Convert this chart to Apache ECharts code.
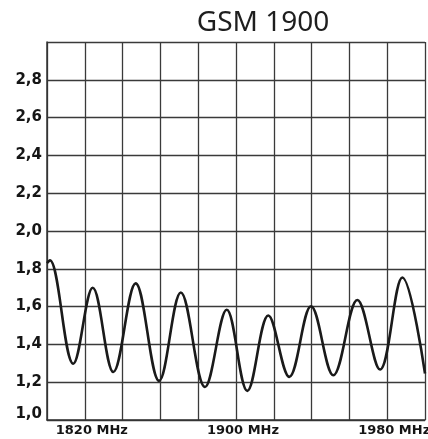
<!DOCTYPE html>
<html>
<head>
<meta charset="utf-8">
<script src="https://cdn.jsdelivr.net/npm/echarts@6/dist/echarts.min.js"></script>
<style>html,body{margin:0;padding:0;background:#fff}#c{width:428px;height:439px}</style>
</head>
<body>
<div id="c"></div>
<script>
var titleText = 'GSM 1900';
var xLabels = [1820, 1900, 1980];
var freq = [1800, 1801.5, 1813.9, 1824.2, 1835.1, 1846.9, 1859.3, 1870.8, 1883.6, 1895.1, 1906.0, 1917.1, 1928.2, 1939.7, 1951.5, 1964.2, 1976.2, 1988.0, 2000];
var vswr = [1.83, 1.845, 1.298, 1.70, 1.254, 1.723, 1.207, 1.675, 1.175, 1.583, 1.154, 1.553, 1.228, 1.602, 1.237, 1.635, 1.267, 1.754, 1.246];

var data = freq.map(function (f, i) { return [f, vswr[i]]; });
var chart = echarts.init(document.getElementById('c'), null, {renderer: 'canvas'});
chart.setOption({
  animation: false,
  title: {
    text: titleText, left: 258, top: 4, textAlign: 'center',
    textStyle: {fontFamily: 'Noto Sans', fontSize: 28, fontWeight: 'normal', color: '#1e1e1e'}
  },
  grid: {left: 47, right: 3, top: 42, bottom: 19, containLabel: false, outerBoundsMode: 'none'},
  xAxis: {
    type: 'value', min: 1800, max: 2000, interval: 20,
    axisLine: {show: true, lineStyle: {color: '#333', width: 1.5}},
    axisTick: {show: false},
    splitLine: {show: true, lineStyle: {color: '#3a3a3a', width: 1.3}},
    axisLabel: {
      show: true, margin: 4, padding: [0, 0, 0, 14],
      fontFamily: 'DejaVu Sans', fontWeight: 'bold', fontSize: 13, color: '#151515',
      showMinLabel: true, showMaxLabel: true, hideOverlap: false,
      formatter: function (v) { return xLabels.indexOf(Math.round(v)) >= 0 ? Math.round(v) + ' MHz' : ''; }
    }
  },
  yAxis: {
    type: 'value', min: 1.0, max: 3.0, interval: 0.2,
    axisLine: {show: true, lineStyle: {color: '#333', width: 1.5}},
    axisTick: {show: false},
    splitLine: {show: true, lineStyle: {color: '#3a3a3a', width: 1.3}},
    axisLabel: {
      margin: 5, fontFamily: 'DejaVu Sans', fontWeight: 'bold', fontSize: 15, color: '#151515',
      rich: {lo: {fontFamily: 'DejaVu Sans', fontWeight: 'bold', fontSize: 15, color: '#151515', padding: [0, 0, 12, 0]}},
      formatter: function (v) {
        if (v >= 2.99) return '';
        var s = v.toFixed(1).replace('.', ',');
        return v <= 1.001 ? '{lo|' + s + '}' : s;
      }
    }
  },
  series: [{
    type: 'line', data: data, smooth: 0.37, symbol: 'none',
    lineStyle: {color: '#1a1a1a', width: 2.6}
  }]
});
</script>
</body>
</html>
